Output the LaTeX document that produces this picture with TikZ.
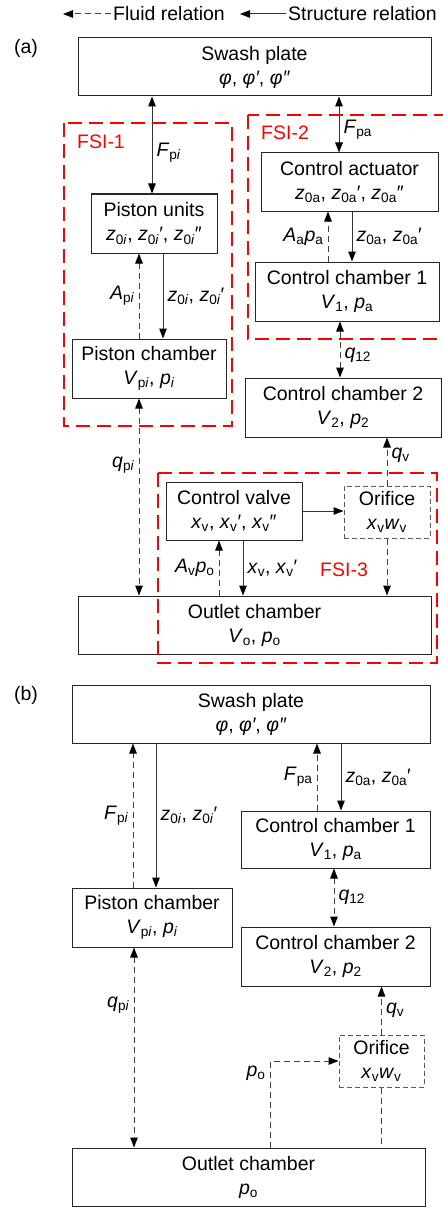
\documentclass[tikz,border=0pt]{standalone}
\usepackage{fontspec}
\setmainfont{Liberation Sans}
\usetikzlibrary{positioning,arrows.meta,calc}

% variable with an upright subscript
\newcommand{\vs}[2]{\textit{#1}\textsubscript{#2}}

\begin{document}
\begin{tikzpicture}[
        x=1pt, y=-1pt,
        every node/.style={font=\fontsize{19.5}{24}\selectfont},
        block/.style={
            draw=black!85,
            line width=1pt,
            rectangle,
            align=center,
            inner sep=0pt,
            minimum height=58
        },
        orifice/.style={
            block,
            draw=black!65,
            dash pattern=on 5pt off 3pt,
            minimum height=52
        },
        fsibox/.style={draw=red, line width=2pt, dash pattern=on 14pt off 7pt},
        fsilabel/.style={text=red},
        >={Triangle[length=10pt,width=7.5pt,color=black]},
        srel/.style={->, line width=1pt, draw=black!80},
        frel/.style={->, line width=1pt, draw=black!75, dash pattern=on 6pt off 4pt},
        lbl/.style={inner sep=4pt}
    ]
        \useasboundingbox (0,0) rectangle (443,1209);

        % Legend
        \node[anchor=west, inner sep=2pt] (leg_fluid) at (111,14) {Fluid relation};
        \coordinate (leg_fluid_end) at (63,14);
        \node[anchor=west, inner sep=2pt] (leg_struct) at (286,14) {Structure relation};
        \coordinate (leg_struct_end) at (240,14);
        \draw[frel] (leg_fluid.west) -- (leg_fluid_end);
        \draw[srel] (leg_struct.west) -- (leg_struct_end);

        % (a) coupled model
        \node (tag_a) at (26,48) {(a)};
        \node[block, minimum width=353] (swash_a) at (254.5,67) {Swash plate\\\textit{φ}, \textit{φ′}, \textit{φ″}};
        \node[block, minimum width=126, minimum height=59] (piston_u) at (154,223.5) {Piston units\\\vs{z}{0\textit{i}}, \vs{z}{0\textit{i}}′, \vs{z}{0\textit{i}}″};
        \node[block, minimum width=154, minimum height=59] (piston_c_a) at (149,368.5) {Piston chamber\\\vs{V}{p\textit{i}}, \vs{p}{\textit{i}}};
        \node[block, minimum width=177] (actuator) at (349.5,182) {Control actuator\\\vs{z}{0a}, \vs{z}{0a}′, \vs{z}{0a}″};
        \node[block, minimum width=184, minimum height=59] (chamber1_a) at (347,291.5) {Control chamber 1\\\vs{V}{1}, \vs{p}{a}};
        \node[block, minimum width=196, minimum height=59] (chamber2_a) at (343,407.5) {Control chamber 2\\\vs{V}{2}, \vs{p}{2}};
        \node[block, minimum width=136] (valve) at (234,511) {Control valve\\\vs{x}{v}, \vs{x}{v}′, \vs{x}{v}″};
        \node[orifice, minimum width=86] (orifice_a) at (387,512) {Orifice\\\vs{x}{v}\vs{w}{v}};
        \node[block, minimum width=353] (outlet_a) at (254.5,625) {Outlet chamber\\\vs{V}{o}, \vs{p}{o}};

        % (a) piston side
        \draw[srel,<->] ([xshift=-2]piston_u.north) -- node[lbl,right,pos=0.42] {\vs{F}{p\textit{i}}} ([xshift=-2]piston_u.north |- swash_a.south);
        \draw[frel] ([xshift=-10]piston_c_a.north) -- node[lbl,left] {\vs{A}{p\textit{i}}} ([xshift=-10]piston_c_a.north |- piston_u.south);
        \draw[srel] ([xshift=9]piston_u.south) -- node[lbl,right] {\vs{z}{0\textit{i}}, \vs{z}{0\textit{i}}′} ([xshift=9]piston_u.south |- piston_c_a.north);
        \draw[frel,<->] ([xshift=-10]piston_c_a.south) -- node[lbl,left,pos=0.34] {\vs{q}{p\textit{i}}} ([xshift=-10]piston_c_a.south |- outlet_a.north);

        % (a) actuator side
        \draw[srel,<->] ([xshift=-10.5]actuator.north) -- node[lbl,right,pos=0.4] {\vs{F}{pa}} ([xshift=-10.5]actuator.north |- swash_a.south);
        \draw[frel] ([xshift=-19]chamber1_a.north) -- node[lbl,left] {\vs{A}{a}\vs{p}{a}} ([xshift=-19]chamber1_a.north |- actuator.south);
        \draw[srel] ([xshift=2.5]actuator.south) -- node[lbl,right] {\vs{z}{0a}, \vs{z}{0a}′} ([xshift=2.5]actuator.south |- chamber1_a.north);
        \draw[frel,<->] ([xshift=-3]chamber2_a.north) -- node[lbl,right,pos=0.4] {\vs{q}{12}} ([xshift=-3]chamber2_a.north |- chamber1_a.south);
        \draw[frel] (orifice_a.north) -- node[lbl,right,pos=0.63] {\vs{q}{v}} (orifice_a.north |- chamber2_a.south);

        % (a) valve side
        \draw[srel] (valve.east) -- (valve.east -| orifice_a.west);
        \draw[frel] ([xshift=-15]valve.south |- outlet_a.north) -- node[lbl,left] {\vs{A}{v}\vs{p}{o}} ([xshift=-15]valve.south);
        \draw[srel] ([xshift=9]valve.south) -- node[lbl,right] {\vs{x}{v}, \vs{x}{v}′} ([xshift=9]valve.south |- outlet_a.north);
        \draw[frel] (orifice_a.south) -- (orifice_a.south |- outlet_a.north);

        % FSI groups
        \draw[fsibox] (64,123) rectangle (232,426);
        \node[fsilabel] (fsi_1) at (101,142) {FSI-1};
        \draw[fsibox] (248,115) rectangle (460,339);
        \node[fsilabel] (fsi_2) at (285,133) {FSI-2};
        \draw[fsibox] (158,473) rectangle (437,663);
        \node[fsilabel] (fsi_3) at (344,570) {FSI-3};

        % (b) decoupled model
        \node (tag_b) at (26,695) {(b)};
        \node[block, minimum width=358] (swash_b) at (251,714) {Swash plate\\\textit{φ}, \textit{φ′}, \textit{φ″}};
        \node[block, minimum width=189, minimum height=57] (chamber1_b) at (335.5,839.5) {Control chamber 1\\\vs{V}{1}, \vs{p}{a}};
        \node[block, minimum width=160, minimum height=59] (piston_c_b) at (152,917.5) {Piston chamber\\\vs{V}{p\textit{i}}, \vs{p}{\textit{i}}};
        \node[block, minimum width=189, minimum height=59] (chamber2_b) at (335.5,956.5) {Control chamber 2\\\vs{V}{2}, \vs{p}{2}};
        \node[orifice, minimum width=85] (orifice_b) at (381.5,1061) {Orifice\\\vs{x}{v}\vs{w}{v}};
        \node[block, minimum width=353] (outlet_b) at (248.5,1177) {Outlet chamber\\\vs{p}{o}};

        \draw[frel] ([xshift=-19]piston_c_b.north) -- node[lbl,left] {\vs{F}{p\textit{i}}} ([xshift=-19]piston_c_b.north |- swash_b.south);
        \draw[srel] ([xshift=4]piston_c_b.north |- swash_b.south) -- node[lbl,right] {\vs{z}{0\textit{i}}, \vs{z}{0\textit{i}}′} ([xshift=4]piston_c_b.north);
        \draw[frel] ([xshift=-18.5]chamber1_b.north) -- node[lbl,left] {\vs{F}{pa}} ([xshift=-18.5]chamber1_b.north |- swash_b.south);
        \draw[srel] ([xshift=5.5]chamber1_b.north |- swash_b.south) -- node[lbl,right] {\vs{z}{0a}, \vs{z}{0a}′} ([xshift=5.5]chamber1_b.north);
        \draw[frel,<->] ([xshift=-1.5]chamber1_b.south) -- node[lbl,right] {\vs{q}{12}} ([xshift=-1.5]chamber1_b.south |- chamber2_b.north);
        \draw[frel] (orifice_b.north) -- node[lbl,right] {\vs{q}{v}} (orifice_b.north |- chamber2_b.south);
        \draw[frel,<->] ([xshift=-18]piston_c_b.south) -- node[lbl,left,pos=0.29] {\vs{q}{p\textit{i}}} ([xshift=-18]piston_c_b.south |- outlet_b.north);
        \draw[frel] ([xshift=21.5]outlet_b.north) |- node[lbl,left,pos=0.43] {\vs{p}{o}} (orifice_b.west);
        \draw[frel,-] (orifice_b.south) -- (orifice_b.south |- outlet_b.north);

    \end{tikzpicture}
\end{document}
